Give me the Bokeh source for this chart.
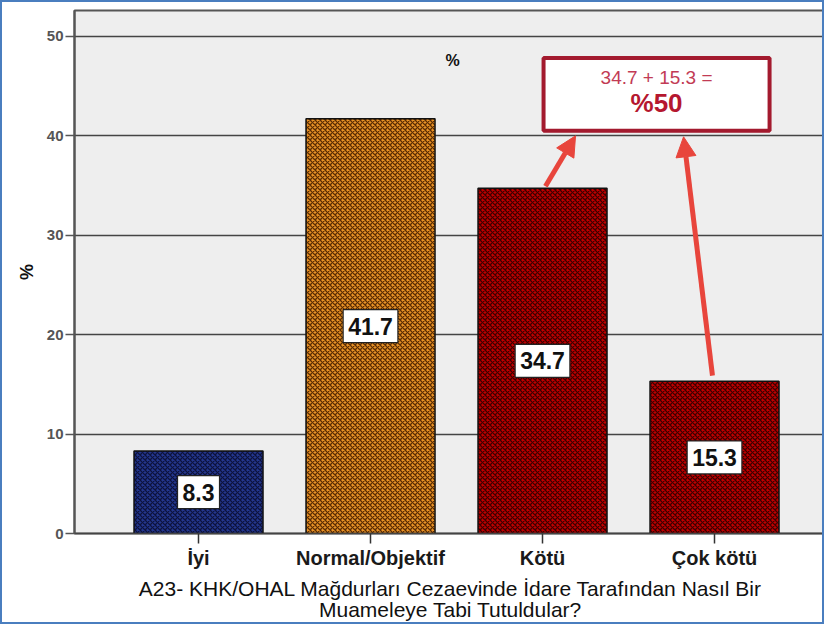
from bokeh.plotting import figure
from bokeh.models import Range1d, FixedTicker, Label, Arrow, NormalHead
from bokeh.embed import file_html
from bokeh.resources import INLINE

# ---- data ----
categories = ["İyi", "Normal/Objektif", "Kötü", "Çok kötü"]
values = [8.3, 41.7, 34.7, 15.3]
bar_fill = ["#24378f", "#ea9226", "#c00000", "#c00000"]
bar_hatch = ["#0a1035", "#4a2200", "#300000", "#300000"]
y_ticks = [0, 10, 20, 30, 40, 50]
sum_text = "34.7 + 15.3 ="
sum_value = "%50"
x_title = "A23- KHK/OHAL Mağdurları Cezaevinde İdare Tarafından Nasıl Bir\nMuameleye Tabi Tutuldular?"

xs = list(range(len(categories)))
FONT = "Liberation Sans"

p = figure(width=824, height=624, output_backend="svg", toolbar_location=None,
           x_range=Range1d(-0.721, 3.651), y_range=Range1d(0, 52.58),
           min_border_left=72, min_border_right=0, min_border_top=8, min_border_bottom=93)
p.styles = {"border": "2px solid #4a7ebf"}

p.background_fill_color = "#eeeeee"
p.border_fill_color = "white"
p.outline_line_color = "#555555"
p.outline_line_width = 2

for i in xs:
    p.vbar(x=[xs[i]], top=[values[i]], width=0.75, bottom=0,
           fill_color=bar_fill[i], line_color="#111111", line_width=1.5,
           hatch_pattern="diagonal_cross", hatch_color=bar_hatch[i],
           hatch_scale=5, hatch_weight=1.3, hatch_alpha=0.9)

# value labels at middle of bars
for i in xs:
    p.add_layout(Label(x=xs[i], y=values[i] / 2, text=f"{values[i]:.1f}",
                       text_align="center", text_baseline="middle",
                       text_font=FONT, text_font_style="bold", text_font_size="23px",
                       text_color="#111111", background_fill_color="white",
                       border_line_color="#222222", border_line_width=1.2,
                       padding=(5, 8)))

# title "%" inside plot
p.add_layout(Label(x=1.477, y=47.6, text="%", text_align="center", text_baseline="middle",
                   text_font=FONT, text_font_style="bold", text_font_size="16px",
                   text_color="#111111"))

# sum box
p.quad(left=[2.006], right=[3.32], bottom=[40.5], top=[47.8], fill_color="white",
       line_color="#a31a2e", line_width=4)
p.add_layout(Label(x=2.663, y=45.83, text=sum_text, text_align="center", text_baseline="middle",
                   text_font=FONT, text_font_size="19px", text_color="#c23b55"))
p.add_layout(Label(x=2.663, y=43.25, text=sum_value, text_align="center", text_baseline="middle",
                   text_font=FONT, text_font_style="bold", text_font_size="26px", text_color="#b5172f"))

# arrows
ac = "#e8453c"
p.add_layout(Arrow(x_start=2.017, y_start=34.92, x_end=2.192, y_end=39.98,
                   line_color=ac, line_width=5,
                   end=NormalHead(size=20, fill_color=ac, line_color=ac)))
p.add_layout(Arrow(x_start=2.988, y_start=15.87, x_end=2.820, y_end=39.88,
                   line_color=ac, line_width=5,
                   end=NormalHead(size=20, fill_color=ac, line_color=ac)))

# axes
p.xaxis.ticker = FixedTicker(ticks=xs)
p.xaxis.major_label_overrides = {i: c for i, c in zip(xs, categories)}
p.xaxis.major_label_text_font = FONT
p.xaxis.major_label_text_font_style = "bold"
p.xaxis.major_label_text_font_size = "20px"
p.xaxis.major_label_text_color = "#1a1a1a"
p.xaxis.major_tick_out = 10
p.xaxis.major_tick_in = 0
p.xaxis.minor_tick_line_color = None
p.xaxis.major_tick_line_color = "#333333"
p.xaxis.major_tick_line_width = 1.5
p.xaxis.axis_line_color = "#444444"
p.xaxis.axis_line_width = 1.5
p.xaxis.major_label_standoff = 3
p.xaxis.axis_label = x_title
p.xaxis.axis_label_text_font = FONT
p.xaxis.axis_label_text_font_style = "normal"
p.xaxis.axis_label_text_font_size = "21px"
p.xaxis.axis_label_text_color = "#111111"
p.xaxis.axis_label_text_line_height = 0.95
p.xaxis.axis_label_standoff = 5

p.yaxis.ticker = FixedTicker(ticks=y_ticks)
p.yaxis.major_label_text_font = FONT
p.yaxis.major_label_text_font_style = "bold"
p.yaxis.major_label_text_font_size = "15px"
p.yaxis.major_label_text_color = "#555555"
p.yaxis.major_tick_out = 9
p.yaxis.major_tick_in = 0
p.yaxis.minor_tick_line_color = None
p.yaxis.major_tick_line_color = "#555555"
p.yaxis.major_tick_line_width = 1.5
p.yaxis.axis_line_color = "#555555"
p.yaxis.axis_line_width = 2
p.yaxis.major_label_standoff = 2
p.yaxis.axis_label = "%"
p.yaxis.axis_label_text_font = FONT
p.yaxis.axis_label_text_font_style = "bold"
p.yaxis.axis_label_text_font_size = "18px"
p.yaxis.axis_label_text_color = "#111111"
p.yaxis.axis_label_standoff = 7

p.xgrid.grid_line_color = None
p.ygrid.grid_line_color = "#444444"
p.ygrid.grid_line_width = 1.3

open("out.html", "w").write(file_html(p, INLINE))
